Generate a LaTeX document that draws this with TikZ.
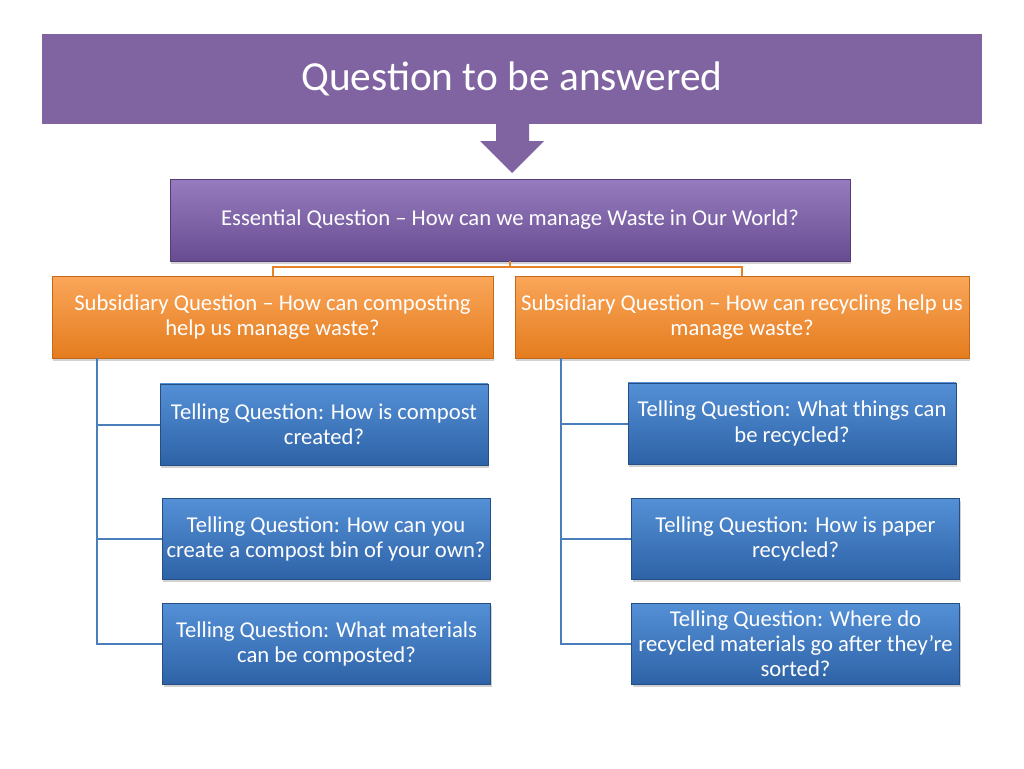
\documentclass[tikz,border=0pt]{standalone}
\usepackage{fontspec}
\setmainfont{Carlito}
\usepackage{tikz}
\usetikzlibrary{positioning, shadows}
\definecolor{bannerpurple}{RGB}{128,100,162}
\definecolor{purpletop}{RGB}{150,124,190}
\definecolor{purplebot}{RGB}{104,76,146}
\definecolor{orangetop}{RGB}{250,166,90}
\definecolor{orangebot}{RGB}{228,124,30}
\definecolor{orangeline}{RGB}{232,130,40}
\definecolor{bluetop}{RGB}{84,144,214}
\definecolor{bluebot}{RGB}{46,98,166}
\definecolor{blueline}{RGB}{74,126,187}

\begin{document}
\begin{tikzpicture}[
    x=0.75pt, y=-0.75pt,
    box/.style={draw, minimum height=61.5pt, inner sep=2pt, align=center, text=white,
        font=\fontsize{17}{18.9}\selectfont,
        drop shadow={shadow xshift=1pt, shadow yshift=-2pt, opacity=0.35}},
    essbox/.style={box, draw=purplebot!80!black, top color=purpletop, bottom color=purplebot, minimum width=510pt},
    subbox/.style={box, draw=orangebot!85!black, top color=orangetop, bottom color=orangebot},
    tellbox/.style={box, draw=bluebot!80!black, top color=bluetop, bottom color=bluebot, minimum width=246pt, minimum height=61pt},
    orangewire/.style={draw=orangeline, line width=1.5pt},
    bluewire/.style={draw=blueline, line width=1.5pt},
]
    \useasboundingbox (0,0) rectangle (1024,768);
    \fill[white] (0,0) rectangle (1024,768);

    % top banner and arrow
    \node[fill=bannerpurple, minimum width=705pt, minimum height=67.5pt, text=white,
          font=\fontsize{31}{34}\selectfont] (banner) at (512,79) {Question to be answered};
    \fill[bannerpurple] (496,123) -- (529,123) -- (529,141) -- (544,141)
        -- (512,173) -- (480,141) -- (496,141) -- cycle;

    % question boxes
    \node[essbox] (ess) at (510,220) {Essential Question -- How can we manage Waste in Our World?};
    \node[subbox, minimum width=330.75pt] (sub1) at (272.5,317)
        {Subsidiary Question -- How can composting\\help us manage waste?};
    \node[subbox, minimum width=340.5pt] (sub2) at (742,317)
        {Subsidiary Question -- How can recycling help us\\manage waste?};

    \node[tellbox] (t1) at (324,424.5) {Telling Question: How is compost\\created?};
    \node[tellbox] (t2) at (326,539) {Telling Question: How can you\\create a compost bin of your own?};
    \node[tellbox] (t3) at (326.5,644) {Telling Question: What materials\\can be composted?};
    \node[tellbox] (r1) at (792,423.5) {Telling Question: What things can\\be recycled?};
    \node[tellbox] (r2) at (795.5,539) {Telling Question: How is paper\\recycled?};
    \node[tellbox] (r3) at (795.5,644) {Telling Question: Where do\\recycled materials go after they’re\\sorted?};

    % connectors
    \coordinate (mid) at (510,267);
    \draw[orangewire] (ess.south) -- (mid) -| (sub1.north);
    \draw[orangewire] (mid) -| (sub2.north);

    \coordinate (lroot) at (97,358);
    \coordinate (rroot) at (561,358);
    \foreach \t in {t1,t2,t3}
        \draw[bluewire] (lroot) |- (\t.west);
    \foreach \t in {r1,r2,r3}
        \draw[bluewire] (rroot) |- (\t.west);
\end{tikzpicture}
\end{document}
